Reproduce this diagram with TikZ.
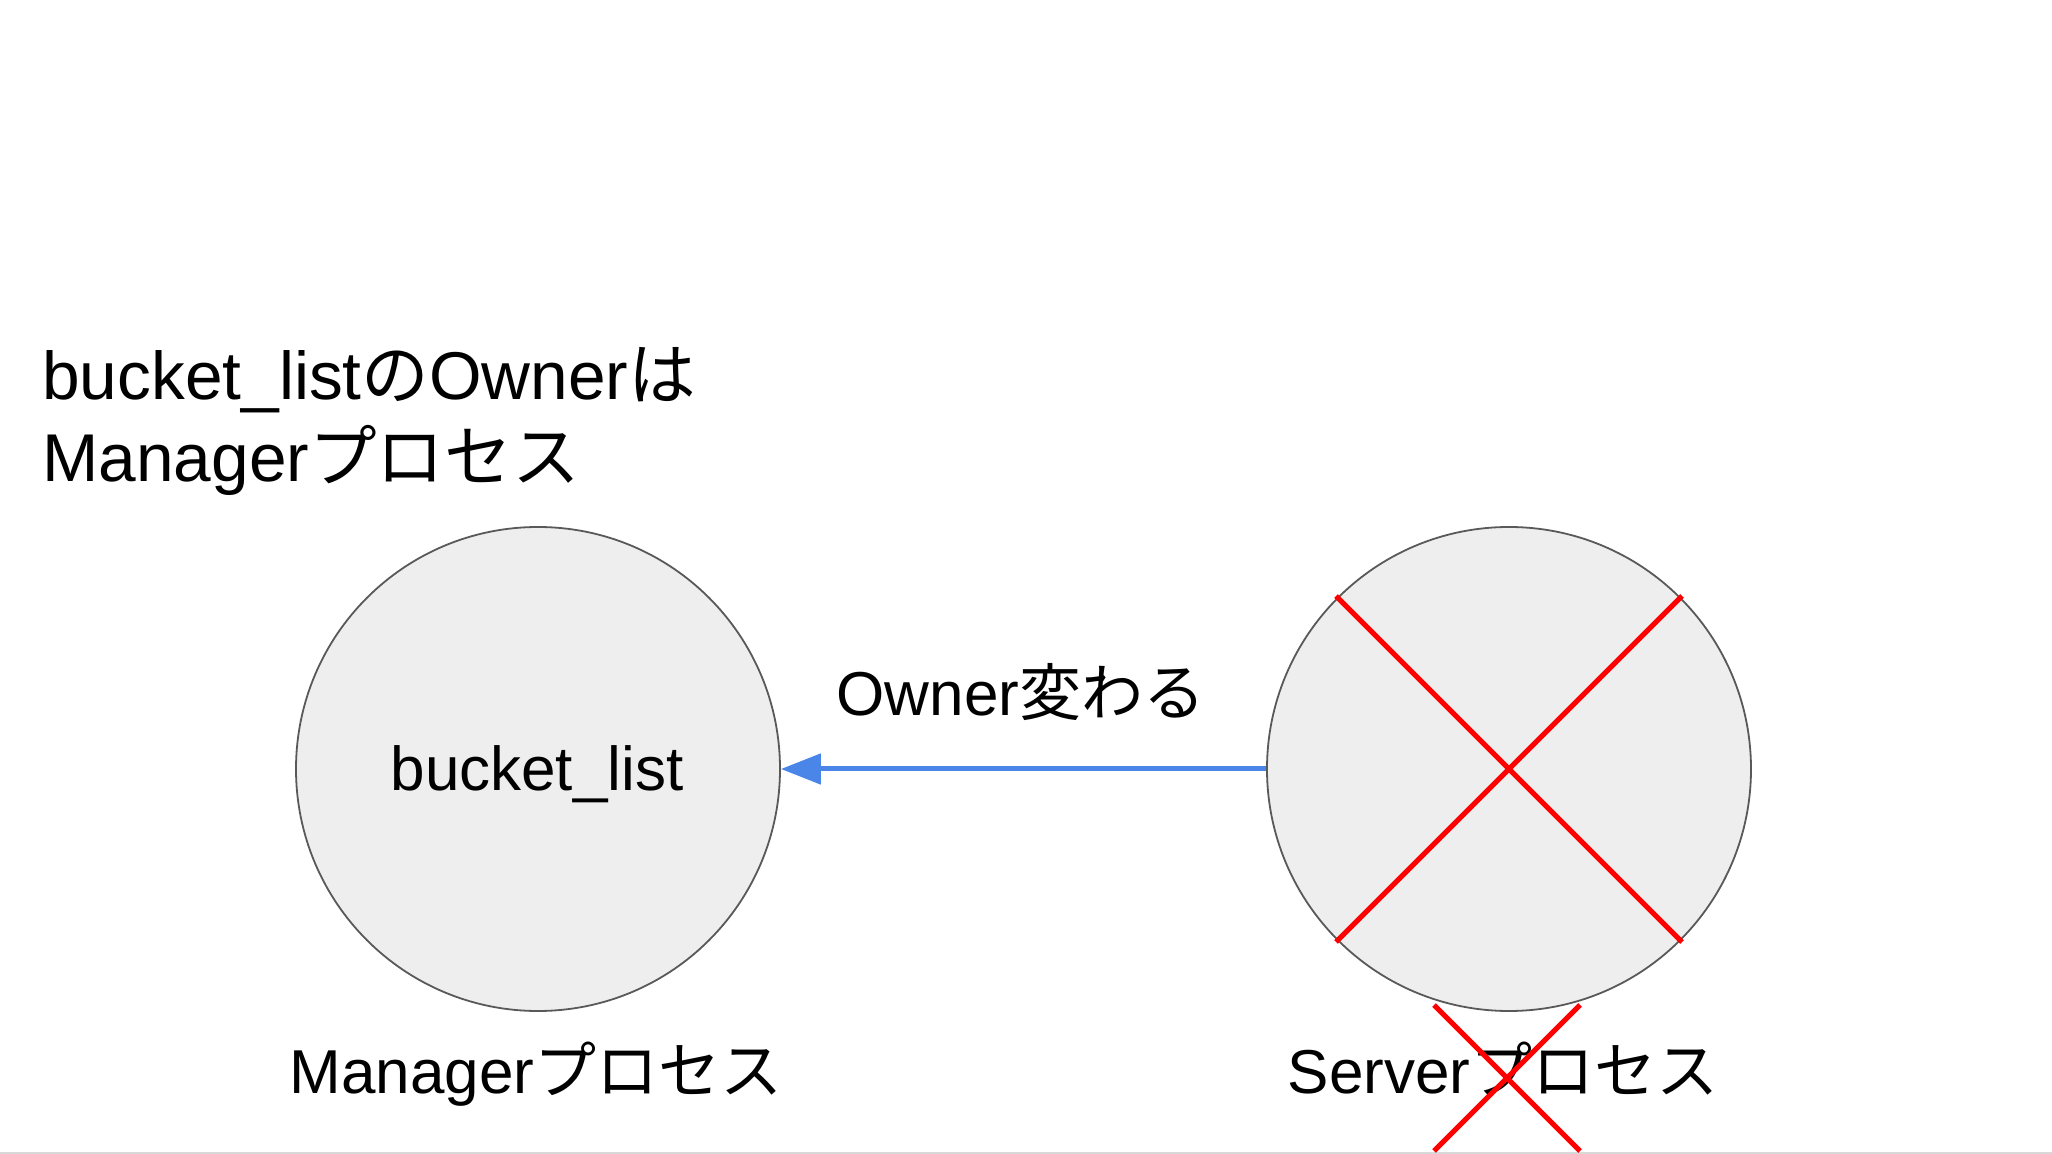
\documentclass[tikz,border=0pt]{standalone}
\usepackage{fontspec}
\setmainfont{Liberation Sans}
\newfontfamily\jp{Noto Sans CJK JP}
\usetikzlibrary{arrows.meta}
\definecolor{circfill}{HTML}{EEEEEE}
\definecolor{circline}{HTML}{595959}
\definecolor{arrblue}{HTML}{4A86E8}
\definecolor{crossred}{HTML}{FF0000}
\definecolor{edgegray}{HTML}{D9D9D9}
\tikzset{
  proc/.style={circle, draw=circline, fill=circfill, line width=0.9pt, minimum size=242pt, inner sep=0pt},
  txt/.style={inner sep=0pt, font=\fontsize{31pt}{37pt}\selectfont},
  bigtxt/.style={inner sep=0pt, font=\fontsize{33.8pt}{41pt}\selectfont},
  arr/.style={draw=arrblue, line width=2.5pt, -{Triangle[length=20pt,width=15pt]}},
  cross/.style={draw=crossred, line width=2.5pt}
}
\begin{document}
\begin{tikzpicture}[x=0.5pt,y=-0.5pt]
\useasboundingbox (0,0) rectangle (2052,1154);
\fill[white] (0,0) rectangle (2052,1154);
\draw[edgegray, line width=1.2pt] (0,1153) -- (2052,1153);
% circles
\node[proc] (mgr) at (538,769) {};
\node[proc] (srv) at (1509,769) {};
% texts
\node[txt, anchor=base] (bl) at (537,791) {bucket\_list};
\node[bigtxt, anchor=base west] (t1) at (42,400) {bucket\_list{\jp の}Owner{\jp は}};
\node[bigtxt, anchor=base west] (t2) at (42,482) {Manager{\jp プロセス}};
\node[txt, anchor=base] (own) at (1021,716) {Owner{\jp 変わる}};
\node[txt, anchor=base] (ml) at (536,1093) {Manager{\jp プロセス}};
\node[txt, anchor=base] (sl) at (1503,1093) {Server{\jp プロセス}};
% arrow
\draw[arr] (srv.west) -- (mgr.east);
% big cross
\coordinate (c1a) at (1336,596);
\coordinate (c1b) at (1682,942);
\coordinate (c2a) at (1682,596);
\coordinate (c2b) at (1336,942);
\draw[cross] (c1a) -- (c1b);
\draw[cross] (c2a) -- (c2b);
% small cross
\coordinate (s1a) at (1434,1005);
\coordinate (s1b) at (1580,1151);
\coordinate (s2a) at (1580,1005);
\coordinate (s2b) at (1434,1151);
\draw[cross] (s1a) -- (s1b);
\draw[cross] (s2a) -- (s2b);
\end{tikzpicture}
\end{document}
